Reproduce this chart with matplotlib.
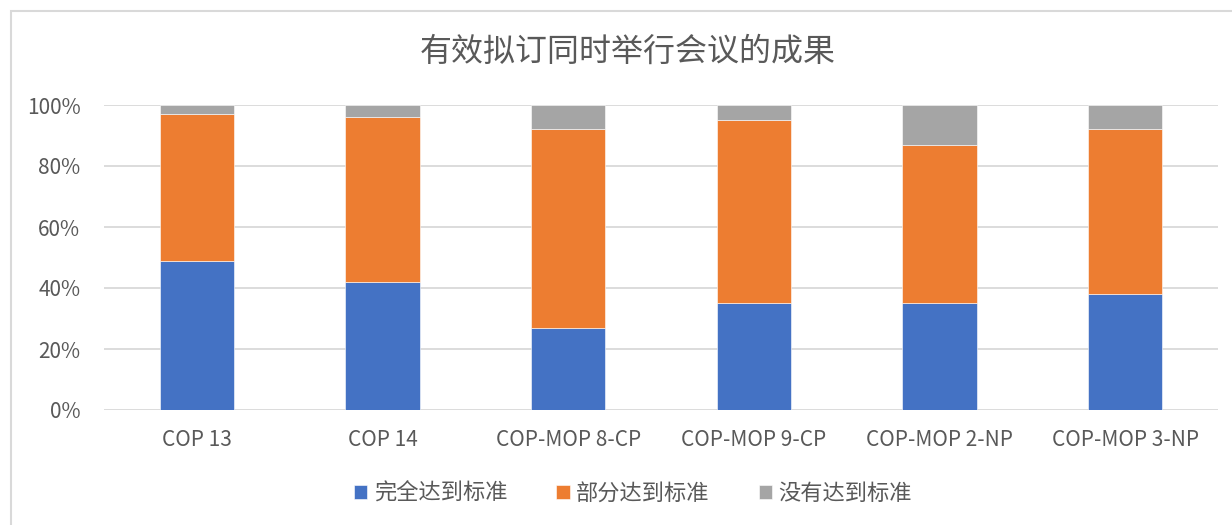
import matplotlib
matplotlib.use("Agg")
import matplotlib.pyplot as plt
from matplotlib.patches import Rectangle
from matplotlib.ticker import PercentFormatter

plt.rcParams['font.family'] = ['Noto Sans CJK SC', 'DejaVu Sans']

categories = ["COP 13", "COP 14", "COP-MOP 8-CP", "COP-MOP 9-CP", "COP-MOP 2-NP", "COP-MOP 3-NP"]
full = [49, 42, 27, 35, 35, 38]
partial = [48, 54, 65, 60, 52, 54]
none = [3, 4, 8, 5, 13, 8]
series_names = ["完全达到标准", "部分达到标准", "没有达到标准"]
colors = ["#4472C4", "#ED7D31", "#A5A5A5"]
title = "有效拟订同时举行会议的成果"

W, H = 1232, 525
fig = plt.figure(figsize=(W / 100, H / 100), dpi=100)
ax = fig.add_axes([104 / W, 1 - 410 / H, (1218 - 104) / W, (410 - 105) / H])

x = list(range(len(categories)))
bottom = [0] * len(categories)
for vals, name, c in zip([full, partial, none], series_names, colors):
    ax.bar(x, vals, width=0.4, bottom=bottom, color=c, label=name,
           edgecolor="white", linewidth=0.4, zorder=3)
    bottom = [b + v for b, v in zip(bottom, vals)]

ax.set_xlim(-0.5, len(categories) - 0.5)
ax.set_ylim(0, 100)
ax.set_yticks(range(0, 101, 20))
ax.yaxis.set_major_formatter(PercentFormatter(100, decimals=0))
ax.set_xticks(x)
ax.set_xticklabels(categories)
ax.grid(axis="y", color="#D9D9D9", linewidth=1.3, zorder=0)
for s in ax.spines.values():
    s.set_visible(False)
ax.tick_params(axis="both", length=0, colors="#595959", labelsize=15)
ax.tick_params(axis="y", pad=17)
ax.tick_params(axis="x", pad=14)

fig.text(628 / W, 1 - 52 / H, title, ha="center", va="center",
         fontsize=23, color="#595959")

leg = fig.legend(loc="center", bbox_to_anchor=(633 / W, 1 - 493 / H), ncol=3,
                 frameon=False, fontsize=16, handlelength=0.6, handleheight=0.6,
                 handletextpad=0.3, columnspacing=2.2)
for t in leg.get_texts():
    t.set_color("#595959")

fig.patches.append(Rectangle((11 / W, -0.1), 1.2, 1 - 11 / H + 0.1,
                             transform=fig.transFigure, fill=False,
                             edgecolor="#D9D9D9", linewidth=1.5))

fig.savefig("out.png", dpi=100)
